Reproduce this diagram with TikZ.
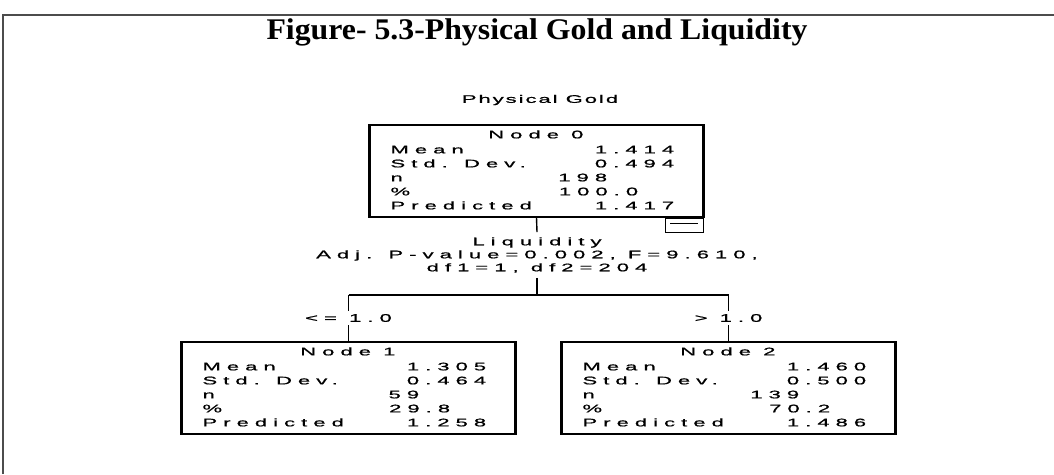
\documentclass[tikz,border=0pt]{standalone}
\usepackage{fontspec}
\setmainfont{Liberation Serif}
\newfontfamily\titlefont{Liberation Serif}[FakeStretch=1.06]
\newfontfamily\spss{Liberation Sans}[FakeStretch=2,LetterSpace=55,FakeBold=1]
\newfontfamily\spsshead{Liberation Sans}[FakeStretch=2,LetterSpace=18,FakeBold=1]
\usetikzlibrary{calc}

% statistics block inside a tree node: #1 box name, #2 heading,
% #3 mean, #4 std. dev., #5 n, #6 percent, #7 predicted
\newcommand\nodestats[7]{%
  \begin{scope}[shift={(#1.north west)}]
    \node[txt,anchor=base] (#1-head) at (166.5,14) {#2};
    \node[lbl] (#1-ml) at (21,29) {Mean};
    \node[lbl] (#1-sl) at (21,43) {Std. Dev.};
    \node[lbl] (#1-nl) at (21,57) {n};
    \node[lbl] (#1-pl) at (21,71) {\%};
    \node[lbl] (#1-rl) at (21,85) {Predicted};
    \node[val] (#1-mv) at (305,29) {#3};
    \node[val] (#1-sv) at (305,43) {#4};
    \node[val] (#1-nv) at (238,57) {#5};
    \node[val] (#1-pv) at (269,71) {#6};
    \node[val] (#1-rv) at (305,85) {#7};
  \end{scope}
  % heavier side edges of the box
  \draw[sideedge] (#1.north west) -- (#1.south west);
  \draw[sideedge] (#1.north east) -- (#1.south east);}

\begin{document}
\begin{tikzpicture}[x=1pt,y=-1pt,
  frameline/.style={draw=black!70,line width=1.8pt},
  treebox/.style={draw=black,line width=1.3pt,minimum width=333pt,
    minimum height=92pt,inner sep=0pt},
  sideedge/.style={draw=black,line width=2.4pt},
  txt/.style={font=\spss\fontsize{11}{13}\selectfont,inner sep=0pt},
  lbl/.style={txt,anchor=base west},
  val/.style={txt,anchor=base east},
  link/.style={draw=black,line width=1.4pt}]
\useasboundingbox (0,0) rectangle (1054,474);

% page frame (top and left edges)
\draw[frameline] (3,474) -- (3,15) -- (1054,15);

% heading
\node[font=\titlefont\bfseries\fontsize{30}{30}\selectfont,inner sep=0pt,
  anchor=base] (title) at (537,39) {Figure- 5.3-Physical Gold and Liquidity};

% dependent variable
\node[txt,font=\spsshead\fontsize{11}{13}\selectfont] (dep) at (540,100)
  {Physical Gold};

% tree nodes
\node[treebox] (n0) at (536.5,171) {};
\node[treebox] (n1) at (348.5,388) {};
\node[treebox] (n2) at (728.5,388) {};

\nodestats{n0}{Node 0}{1.414}{0.494}{198}{100.0}{1.417}
\nodestats{n1}{Node 1}{1.305}{0.464}{59}{29.8}{1.258}
\nodestats{n2}{Node 2}{1.460}{0.500}{139}{70.2}{1.486}

% collapse toggle under the root
\node[draw=black,line width=1.1pt,anchor=north east,minimum width=38pt,
  minimum height=14pt,inner sep=0pt] (toggle) at (n0.south east)
  {\rule[2.5pt]{28pt}{1pt}};

% split description
\node[txt,align=center,inner ysep=5pt] (split) at (537,255)
  {Liquidity\\Adj. P-value=0.002, F=9.610,\\df1=1, df2=204};

\coordinate (fork) at (537,295);
\draw[link] (n0.south) -- (split.north);
\draw[link] (split.south) -- (fork);
\draw[link] (n1.north |- fork) -- (n2.north |- fork);

% branch conditions
\node[txt,inner ysep=3pt] (c1) at (348.5,318) {<= 1.0};
\node[txt,inner ysep=3pt] (c2) at (728.5,318) {> 1.0};
\draw[link] (n1.north |- fork) -- (n1.north |- c1.north);
\draw[link] (n1.north |- c1.south) -- (n1.north);
\draw[link] (n2.north |- fork) -- (n2.north |- c2.north);
\draw[link] (n2.north |- c2.south) -- (n2.north);
\end{tikzpicture}
\end{document}
